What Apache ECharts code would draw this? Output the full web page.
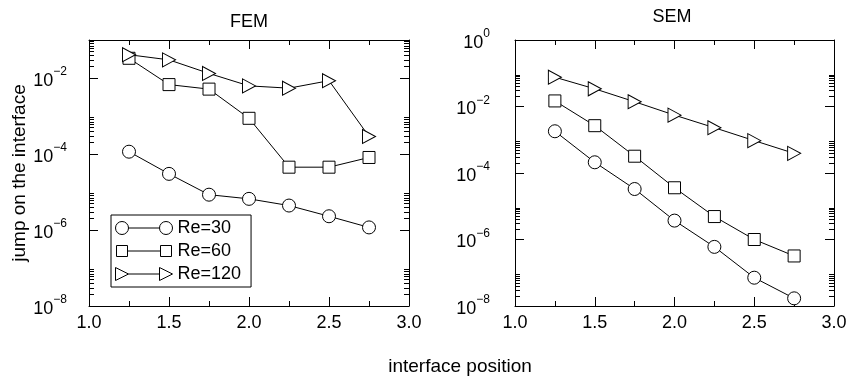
<!DOCTYPE html>
<html>
<head>
<meta charset="utf-8">
<script src="https://cdn.jsdelivr.net/npm/echarts@6/dist/echarts.min.js"></script>
<style>
  html, body { margin: 0; padding: 0; background: #fff; }
  #chart { width: 850px; height: 378px; }
</style>
</head>
<body>
<div id="chart"></div>
<script>
// Interface positions (x) shared by every curve
const positions = [1.25, 1.5, 1.75, 2.0, 2.25, 2.5, 2.75];

// FEM: jump on the interface
const fem30  = [1.15e-4, 3.0e-5, 8.5e-6, 6.6e-6, 4.4e-6, 2.3e-6, 1.17e-6];
const fem60  = [3.3e-2, 6.7e-3, 5.1e-3, 8.7e-4, 4.5e-5, 4.5e-5, 8.1e-5];
const fem120 = [4.1e-2, 3.0e-2, 1.32e-2, 6.2e-3, 5.4e-3, 8.5e-3, 2.9e-4];

// SEM: jump on the interface
const sem30  = [1.8e-3, 2.1e-4, 3.3e-5, 3.7e-6, 6.0e-7, 7.1e-8, 1.7e-8];
const sem60  = [1.47e-2, 2.65e-3, 3.2e-4, 3.6e-5, 4.9e-6, 1.0e-6, 3.2e-7];
const sem120 = [7.6e-2, 3.4e-2, 1.39e-2, 5.5e-3, 2.3e-3, 9.4e-4, 3.9e-4];

const seriesNames = ['Re=30', 'Re=60', 'Re=120'];
const panelTitles = ['FEM', 'SEM'];
const xName = 'interface position';
const yName = 'jump on the interface';

// Log axis ranges and tick values
const femRange = [1e-8, 1e-1];
const semRange = [1e-8, 1e0];
const femMajor = [1e-8, 1e-6, 1e-4, 1e-2];
const semMajor = [1e-8, 1e-6, 1e-4, 1e-2, 1e0];
const minorDecades = [-8, -6, -4, -2];
const minorFactors = [2, 3, 4, 5, 6, 7, 8, 9];

const FONT = 'Liberation Sans, Arial, Helvetica, sans-serif';

const minorValues = [];
minorDecades.forEach(function (e) {
  minorFactors.forEach(function (k) { minorValues.push(k * Math.pow(10, e)); });
});

function pairs(ys) {
  return positions.map(function (x, i) { return [x, ys[i]]; });
}

function powLabel(v) {
  const e = Math.round(Math.log10(v));
  const exp = e < 0 ? '\u2212' + Math.abs(e) : String(e);
  return '{b|10}{e|' + exp + '}';
}

function makeX(grid, position) {
  const bottom = position === 'bottom';
  return {
    type: 'value', gridIndex: grid, position: position,
    min: 1, max: 3, interval: 0.5,
    axisLine: { show: true, onZero: false, lineStyle: { color: '#000', width: 1 } },
    axisTick: { show: true, inside: true, length: 9, lineStyle: { color: '#000', width: 1 } },
    minorTick: { show: true, splitNumber: 2, length: 5, lineStyle: { color: '#000', width: 1 } },
    splitLine: { show: false },
    axisLabel: {
      show: bottom, margin: 8, color: '#000', fontSize: 18, fontFamily: FONT,
      formatter: function (v) { return v.toFixed(1); }
    }
  };
}

function makeY(grid, position, range, ticks, len, withLine, labelMargin, extra) {
  const ax = {
    type: 'log', logBase: 10, gridIndex: grid, position: position,
    min: range[0], max: range[1],
    axisLine: { show: withLine, lineStyle: { color: '#000', width: 1 } },
    axisTick: { show: true, inside: true, length: len, customValues: ticks,
                lineStyle: { color: '#000', width: 1 } },
    splitLine: { show: false },
    minorTick: { show: false },
    axisLabel: { show: false }
  };
  if (labelMargin != null) {
    ax.axisLabel = {
      show: true, customValues: ticks, margin: labelMargin, color: '#000',
      formatter: powLabel,
      rich: {
        b: { fontSize: 18, fontFamily: FONT, color: '#000', lineHeight: 24, verticalAlign: 'bottom' },
        e: { fontSize: 12, fontFamily: FONT, color: '#000', lineHeight: 12, verticalAlign: 'top' }
      }
    };
  }
  return Object.assign(ax, extra || {});
}

const circleIcon = 'path://M0 6.5A6.5 6.5 0 1 1 13 6.5A6.5 6.5 0 1 1 0 6.5ZM13 6.5L44 6.5M44 6.5A6.5 6.5 0 1 1 57 6.5A6.5 6.5 0 1 1 44 6.5Z';
const squareIcon = 'path://M0 0M57 13M1 1L12 1L12 12L1 12ZM12 6.5L45 6.5M45 1L56 1L56 12L45 12Z';
const triangleIcon = 'path://M0 0L13 6.5L0 13ZM13 6.5L44 6.5M44 0L57 6.5L44 13Z';
const triangleSymbol = 'path://M0 0L13 6.5L0 13Z';

const symbols = [
  { symbol: 'circle', size: 13 },
  { symbol: 'rect', size: 12 },
  { symbol: triangleSymbol, size: [13, 14] }
];

function makeSeries(name, ys, k, xi, yi) {
  return {
    type: 'line', name: name, data: pairs(ys),
    xAxisIndex: xi, yAxisIndex: yi,
    symbol: symbols[k].symbol, symbolSize: symbols[k].size,
    showAllSymbol: true,
    lineStyle: { color: '#000', width: 1 },
    itemStyle: { color: '#fff', borderColor: '#000', borderWidth: 1 },
    emphasis: { disabled: true },
    z: 3 + k
  };
}

const chart = echarts.init(document.getElementById('chart'), null, { renderer: 'canvas' });

chart.setOption({
  animation: false,
  backgroundColor: '#fff',
  textStyle: { fontFamily: FONT, color: '#000' },
  title: [
    { text: panelTitles[0], left: 249, top: 13, textAlign: 'center', padding: 0,
      textStyle: { fontSize: 18, fontWeight: 'normal', color: '#000', fontFamily: FONT } },
    { text: panelTitles[1], left: 672, top: 8, textAlign: 'center', padding: 0,
      textStyle: { fontSize: 18, fontWeight: 'normal', color: '#000', fontFamily: FONT } },
    { text: xName, left: 460, top: 357, textAlign: 'center', padding: 0,
      textStyle: { fontSize: 19, fontWeight: 'normal', color: '#000', fontFamily: FONT } }
  ],
  grid: [
    { left: 89, top: 40, width: 320, height: 266, containLabel: false, outerBoundsMode: 'none' },
    { left: 515, top: 40, width: 319, height: 266, containLabel: false, outerBoundsMode: 'none' }
  ],
  legend: {
    orient: 'vertical', left: 111, top: 215,
    padding: [3, 10, 3, 4], itemGap: 3,
    itemWidth: 57, itemHeight: 13,
    borderColor: '#000', borderWidth: 1, backgroundColor: '#fff',
    selectedMode: false,
    itemStyle: { borderWidth: 1 },
    textStyle: { fontSize: 18, color: '#000', fontFamily: FONT, lineHeight: 20 },
    data: [
      { name: seriesNames[0], icon: circleIcon },
      { name: seriesNames[1], icon: squareIcon },
      { name: seriesNames[2], icon: triangleIcon }
    ]
  },
  xAxis: [
    makeX(0, 'bottom'), makeX(0, 'top'),
    makeX(1, 'bottom'), makeX(1, 'top')
  ],
  yAxis: [
    makeY(0, 'left', femRange, femMajor, 9, true, 22, {
      name: yName, nameLocation: 'middle', nameGap: 55,
      nameTextStyle: { fontSize: 19, color: '#000', fontFamily: FONT }
    }),
    makeY(0, 'left', femRange, minorValues, 5, false, null),
    makeY(0, 'right', femRange, femMajor, 9, true, null),
    makeY(0, 'right', femRange, minorValues, 5, false, null),
    makeY(1, 'left', semRange, semMajor, 9, true, 25),
    makeY(1, 'left', semRange, minorValues, 5, false, null),
    makeY(1, 'right', semRange, semMajor, 9, true, null),
    makeY(1, 'right', semRange, minorValues, 5, false, null)
  ],
  series: [
    makeSeries(seriesNames[0], fem30, 0, 0, 0),
    makeSeries(seriesNames[1], fem60, 1, 0, 0),
    makeSeries(seriesNames[2], fem120, 2, 0, 0),
    makeSeries(seriesNames[0], sem30, 0, 2, 4),
    makeSeries(seriesNames[1], sem60, 1, 2, 4),
    makeSeries(seriesNames[2], sem120, 2, 2, 4)
  ]
});
</script>
</body>
</html>
